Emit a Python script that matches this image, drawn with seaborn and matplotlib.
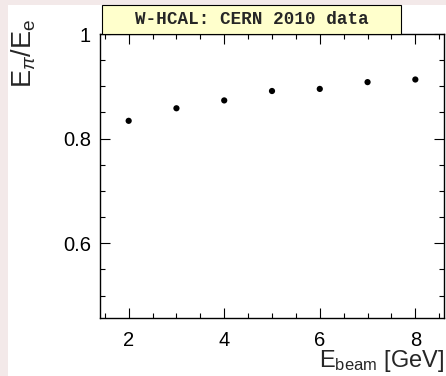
import matplotlib
matplotlib.use("Agg")
import matplotlib.pyplot as plt
from matplotlib.patches import Rectangle
from matplotlib.ticker import MultipleLocator
import seaborn as sns
import pandas as pd

# data
e_beam = [2, 3, 4, 5, 6, 7, 8]
ratio = [0.834, 0.858, 0.873, 0.891, 0.895, 0.908, 0.913]

title_text = "W-HCAL: CERN 2010 data"
x_label = r"E$_{\rm beam}$ [GeV]"
y_label = r"E$_{\pi}$/E$_{\rm e}$"

sns.set_style("ticks")
plt.rcParams['font.family'] = ['Liberation Sans', 'DejaVu Sans']
plt.rcParams['mathtext.fontset'] = 'custom'
plt.rcParams['mathtext.rm'] = 'Liberation Sans'
plt.rcParams['mathtext.it'] = 'Liberation Sans:italic'

W, H = 446, 376
fig = plt.figure(figsize=(W / 100, H / 100), dpi=100, facecolor="#f3e9e9")
# white canvas over the pink frame (drawn below the axes)
fig.patches.append(Rectangle((8 / W, 0), 1, (H - 5) / H, transform=fig.transFigure,
                             facecolor="white", edgecolor="none", zorder=-10))

ax = fig.add_axes([100 / W, (H - 318) / H, 344 / W, 284 / H])
ax.set_facecolor("white")
df = pd.DataFrame({"E_beam": e_beam, "ratio": ratio})
sns.scatterplot(data=df, x="E_beam", y="ratio", ax=ax, color="black",
                s=20, edgecolor="none", zorder=3)

ax.set_xlim(1.4, 8.6)
ax.set_ylim(0.457, 1.0)
ax.xaxis.set_major_locator(MultipleLocator(2))
ax.xaxis.set_minor_locator(MultipleLocator(0.5))
ax.yaxis.set_minor_locator(MultipleLocator(0.05))
ax.set_yticks([0.6, 0.8, 1.0])
ax.set_yticklabels(["0.6", "0.8", "1"])

for s in ax.spines.values():
    s.set_visible(True)
    s.set_linewidth(1.0)
    s.set_color("black")
ax.tick_params(which="both", direction="in", top=True, right=True,
               colors="black", width=0.8, labelsize=14.5)
ax.tick_params(which="major", length=7.2)
ax.tick_params(which="minor", length=3.6)
ax.tick_params(axis="x", which="major", pad=9)
ax.tick_params(axis="y", which="major", pad=6.5)

ax.set_xlabel(x_label, fontsize=17, loc="right")
ax.xaxis.set_label_coords(1.0, -0.105)
ax.set_ylabel("")
fig.text(24 / W, (H - 19) / H, y_label, rotation=90, fontsize=19.5,
         ha="center", va="top")

# title box
fig.patches.append(Rectangle((102 / W, (H - 34) / H), 299 / W, 29 / H,
                             transform=fig.transFigure, facecolor="#ffffcc",
                             edgecolor="black", linewidth=0.8, zorder=5))
fig.text(252 / W, (H - 19.5) / H, title_text, fontsize=12.7, family="Liberation Mono",
         weight="bold", ha="center", va="center", zorder=6)

fig.savefig("out.png", dpi=100, facecolor=fig.get_facecolor())
